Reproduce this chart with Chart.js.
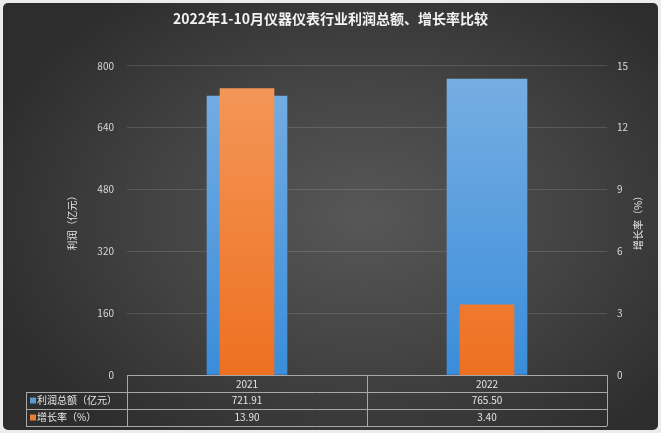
<!DOCTYPE html>
<html>
<head>
<meta charset="utf-8">
<script src="https://cdn.jsdelivr.net/npm/chart.js@4"></script>
<style>
  html, body { margin: 0; padding: 0; background: #ececec; }
  #wrap {
    position: absolute; left: 0; top: 0; width: 661px; height: 433px;
  }
  #frame {
    position: absolute; left: 3px; top: 3px; width: 655px; height: 427px;
    border-radius: 5px;
    background: radial-gradient(ellipse 60% 65% at 55% 50%, #575757 0%, #424242 55%, #2d2d2d 100%);
  }
  canvas { position: absolute; left: 0; top: 0; }
</style>
</head>
<body>
<div id="wrap">
  <div id="frame"></div>
  <canvas id="mixedChart" width="661" height="433"></canvas>
</div>
<script>
const years = ['2021', '2022'];
const profit = [721.91, 765.50];      // 利润总额（亿元）
const growth = [13.90, 3.40];         // 增长率（%）
const profitLabel = '利润总额（亿元）';
const growthLabel = '增长率（%）';
const rightTitle = '增长率（%）';

const FONT = '"Noto Sans CJK SC", "Noto Sans", sans-serif';

function barGradient(ctx, top, bottom) {
    const area = ctx.chart.chartArea;
    if (!area) return bottom;
    const g = ctx.chart.ctx.createLinearGradient(0, area.top, 0, area.bottom);
    g.addColorStop(0, top);
    g.addColorStop(1, bottom);
    return g;
}

// draws the data table under the plot, plus the right axis title (reads bottom to top)
const tablePlugin = {
    id: 'dataTable',
    afterDraw(chart) {
        const c = chart.ctx;
        const x = chart.scales.x;
        const area = chart.chartArea;
        const left = 26, rowH = [17, 17, 17];
        const y0 = area.bottom;
        const y1 = y0 + rowH[0], y2 = y1 + rowH[1], y3 = y2 + rowH[2];
        c.save();
        c.strokeStyle = '#a8a8a8';
        c.lineWidth = 1;
        c.beginPath();
        // horizontal lines
        c.moveTo(area.left, y0 + 0.5); c.lineTo(area.right, y0 + 0.5);
        [y1, y2, y3].forEach(y => { c.moveTo(left, y + 0.5); c.lineTo(area.right, y + 0.5); });
        // vertical lines
        c.moveTo(left + 0.5, y1); c.lineTo(left + 0.5, y3);
        const mid = (x.getPixelForValue(0) + x.getPixelForValue(1)) / 2;
        [area.left, mid, area.right].forEach(px => {
            c.moveTo(Math.round(px) + 0.5, y0); c.lineTo(Math.round(px) + 0.5, y3);
        });
        c.stroke();

        c.font = '10px ' + FONT;
        c.textBaseline = 'middle';
        // row headers with legend keys
        c.fillStyle = '#5b9bd5';
        c.fillRect(30, (y1 + y2) / 2 - 3, 6, 6);
        c.fillStyle = '#ed7d31';
        c.fillRect(30, (y2 + y3) / 2 - 3, 6, 6);
        c.fillStyle = '#e6e6e6';
        c.textAlign = 'left';
        c.fillText(profitLabel, 37, (y1 + y2) / 2);
        c.fillText(growthLabel, 37, (y2 + y3) / 2);
        // values
        c.textAlign = 'center';
        years.forEach((yr, i) => {
            const px = x.getPixelForValue(i);
            c.fillText(profit[i].toFixed(2), px, (y1 + y2) / 2);
            c.fillText(growth[i].toFixed(2), px, (y2 + y3) / 2);
        });

        // right axis title
        c.translate(638, (area.top + area.bottom) / 2);
        c.rotate(-Math.PI / 2);
        c.fillText(rightTitle, 0, 0);
        c.restore();
    }
};

const ctx = document.getElementById('mixedChart').getContext('2d');
const mixedChart = new Chart(ctx, {
    type: 'bar',
    data: {
        labels: years,
        datasets: [{
            label: profitLabel,
            data: profit,
            yAxisID: 'y',
            order: 2,
            grouped: false,
            barThickness: 80,
            backgroundColor: c => barGradient(c, '#79afe3', '#3a8dda')
        }, {
            label: growthLabel,
            data: growth,
            yAxisID: 'y1',
            order: 1,
            grouped: false,
            barThickness: 54,
            backgroundColor: c => barGradient(c, '#f4995c', '#ee7020')
        }]
    },
    options: {
        responsive: false,
        animation: false,
        layout: { padding: 0 },
        plugins: {
            legend: { display: false },
            tooltip: { enabled: false },
            title: {
                display: true,
                text: '2022年1-10月仪器仪表行业利润总额、增长率比较',
                color: '#f2f2f2',
                font: { family: FONT, size: 14, weight: 'bold' },
                padding: { top: 10, bottom: 39 }
            }
        },
        scales: {
            x: {
                grid: { display: false, drawTicks: false },
                border: { display: false },
                ticks: { color: '#e6e6e6', font: { family: FONT, size: 10 }, padding: 3 },
                afterFit: s => { s.height = 58; }
            },
            y: {
                position: 'left',
                min: 0, max: 800,
                ticks: { stepSize: 160, color: '#d9d9d9', font: { family: FONT, size: 10 }, padding: 13 },
                grid: { color: 'rgba(255,255,255,0.13)', drawTicks: false },
                border: { display: false },
                title: {
                    display: true, text: '利润（亿元）', color: '#e6e6e6',
                    font: { family: FONT, size: 10 }, padding: { top: 66, bottom: 0 }
                },
                afterFit: s => { s.width = 127; }
            },
            y1: {
                position: 'right',
                min: 0, max: 15,
                ticks: { stepSize: 3, color: '#d9d9d9', font: { family: FONT, size: 10 }, padding: 10 },
                grid: { display: false, drawTicks: false },
                border: { display: false },
                afterFit: s => { s.width = 54; }
            }
        }
    },
    plugins: [tablePlugin]
});
</script>
</body>
</html>
